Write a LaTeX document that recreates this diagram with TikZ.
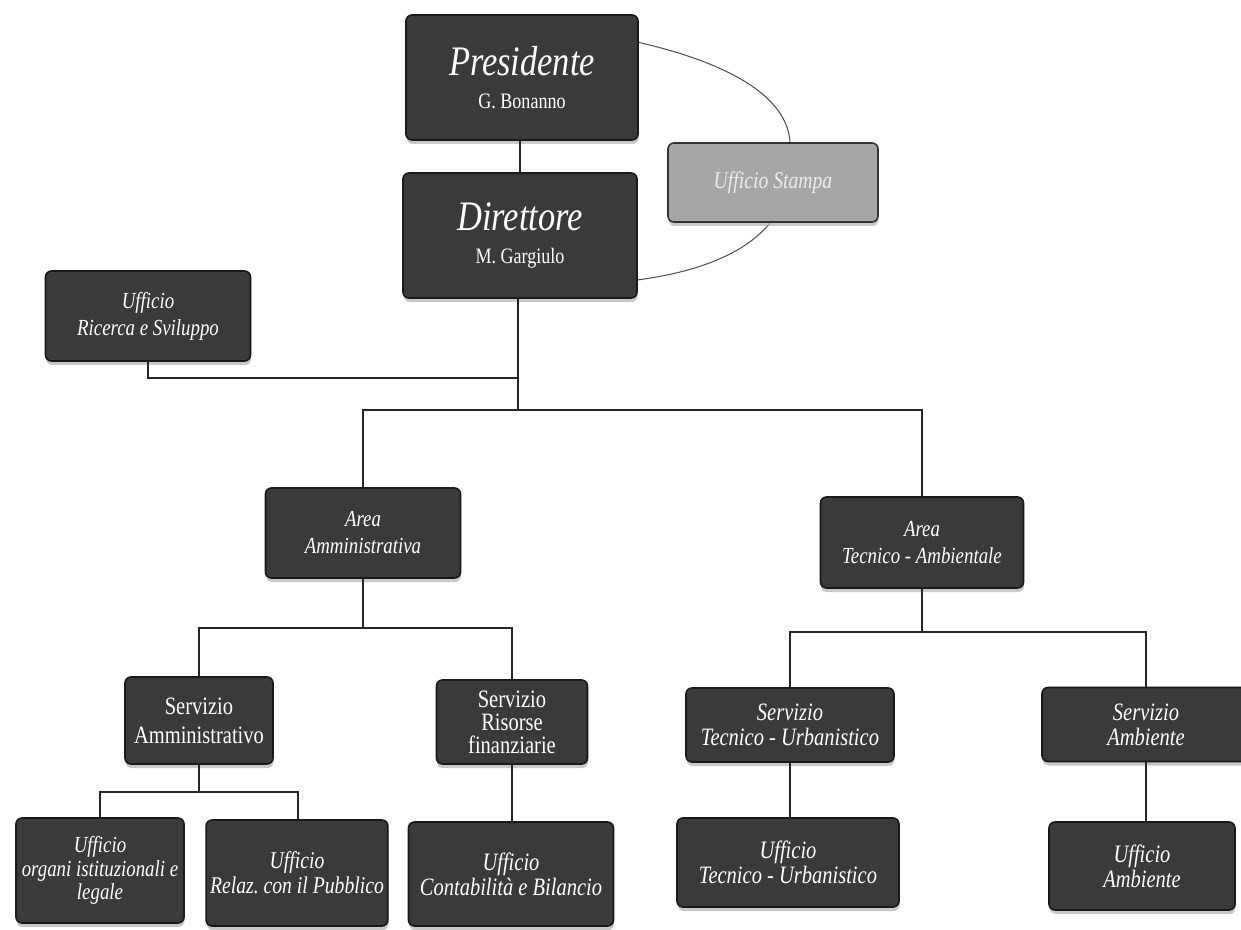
\documentclass[tikz,border=0pt]{standalone}
\usepackage{fontspec}
\usetikzlibrary{shadows}
\newfontfamily\bx{Liberation Serif}[FakeStretch=0.82]
\definecolor{boxfill}{HTML}{3A3A3A}
\definecolor{stampafill}{HTML}{A6A6A6}
\frenchspacing
\begin{document}
\begin{tikzpicture}[x=0.5pt,y=-0.5pt,
  orgbox/.style={draw=black!90, line width=0.8pt, fill=boxfill, rounded corners=3pt,
    text=white, align=center, inner sep=2pt, font=\bx\itshape\fontsize{11.5}{13.5}\selectfont,
    drop shadow={shadow xshift=0.3pt, shadow yshift=-2pt, fill=black!30, opacity=0.7}},
  bigbox/.style={orgbox, font=\bx\itshape\fontsize{12.5}{12.5}\selectfont},
  upbox/.style={orgbox, font=\bx\fontsize{12.5}{11.5}\selectfont},
  link/.style={draw=black!85, line width=0.8pt},
  arc/.style={draw=black!70, line width=0.5pt}]
\useasboundingbox (0,0) rectangle (1241,930);
\fill[white] (0,0) rectangle (1241,930);

% ellipse around Ufficio Stampa (drawn first, box covers it)
\coordinate (a1) at (637,42);
\coordinate (a2) at (637,280);
\coordinate (a3) at (788,160);
\draw[arc] (a1) .. controls (760,70) and (800,115) .. (a3)
                .. controls (795,230) and (730,268) .. (a2);

% top nodes
\node[orgbox, minimum width=116pt, minimum height=62.5pt] (pres) at (522,77.5)
  {{\fontsize{21}{22}\selectfont Presidente}\\[3pt]{\upshape\fontsize{11}{12}\selectfont G. Bonanno}};
\node[orgbox, minimum width=117pt, minimum height=62.5pt] (dir) at (520,235.5)
  {{\fontsize{21}{22}\selectfont Direttore}\\[3pt]{\upshape\fontsize{11}{12}\selectfont M. Gargiulo}};
\node[orgbox, fill=stampafill, text=white!92!black, minimum width=105pt, minimum height=39.5pt,
  draw=black!80, font=\bx\itshape\fontsize{12}{13}\selectfont] (stampa) at (773,182.5) {Ufficio Stampa};
\node[orgbox, minimum width=102.5pt, minimum height=45pt] (ric) at (148,316)
  {Ufficio\\Ricerca e Sviluppo};

% areas
\node[orgbox, minimum width=97.5pt, minimum height=45pt] (aamm) at (363,533)
  {Area\\Amministrativa};
\node[orgbox, minimum width=101.5pt, minimum height=45.5pt] (atec) at (922,542.5)
  {Area\\Tecnico - Ambientale};

% servizi
\node[upbox, minimum width=74pt, minimum height=43.5pt] (samm) at (199,720.5)
  {Servizio\\[3pt]Amministrativo};
\node[upbox, minimum width=75.5pt, minimum height=42pt] (sris) at (512,722)
  {Servizio\\Risorse\\finanziarie};
\node[bigbox, minimum width=104pt, minimum height=37pt] (stec) at (790,725)
  {Servizio\\Tecnico - Urbanistico};
\node[bigbox, minimum width=104pt, minimum height=37pt] (samb) at (1146,724.5)
  {Servizio\\Ambiente};

% uffici
\node[orgbox, minimum width=84pt, minimum height=52.5pt, font=\bx\itshape\fontsize{11.5}{11.8}\selectfont] (uorg) at (100,870.5)
  {Ufficio\\organi istituzionali e\\legale};
\node[orgbox, minimum width=89.5pt, minimum height=53pt, font=\bx\itshape\fontsize{12}{12.5}\selectfont] (urel) at (297,873)
  {Ufficio\\Relaz. con il Pubblico};
\node[bigbox, minimum width=102.5pt, minimum height=52pt] (ucon) at (511,874)
  {Ufficio\\Contabilità e Bilancio};
\node[bigbox, minimum width=111pt, minimum height=44.5pt] (utec) at (788,862.5)
  {Ufficio\\Tecnico - Urbanistico};
\node[bigbox, minimum width=93pt, minimum height=44pt] (uamb) at (1142,866)
  {Ufficio\\Ambiente};

% junction coordinates
\coordinate (jr) at (518,378);
\coordinate (jm) at (518,410);
\coordinate (ja) at (363,628);
\coordinate (jt) at (922,632);
\coordinate (js) at (199,792);

% connectors
\draw[link] (pres.south -| 520,0) -- (dir.north -| 520,0);
\draw[link] (dir.south -| jm) -- (jm);
\draw[link] (ric.south) |- (jr);
\draw[link] (aamm.north) |- (jm) -| (atec.north);
\draw[link] (aamm.south) -- (ja);
\draw[link] (samm.north) |- (ja) -| (sris.north);
\draw[link] (atec.south) -- (jt);
\draw[link] (stec.north) |- (jt) -| (samb.north);
\draw[link] (samm.south) -- (js);
\draw[link] (uorg.north) |- (js) -| (urel.north -| 298,0);
\draw[link] (sris.south) -- (ucon.north -| sris.south);
\draw[link] (stec.south) -- (utec.north -| stec.south);
\draw[link] (samb.south) -- (uamb.north -| samb.south);
\end{tikzpicture}
\end{document}
